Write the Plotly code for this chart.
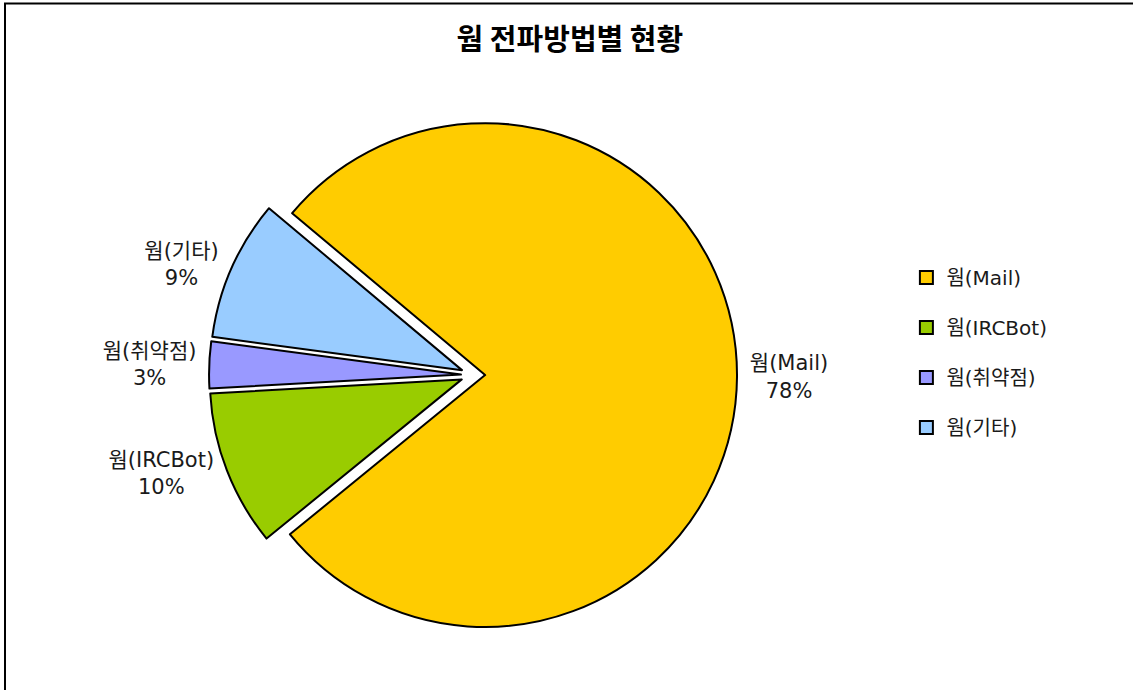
import plotly.graph_objects as go

# Data
categories = ["웜(Mail)", "웜(IRCBot)", "웜(취약점)", "웜(기타)"]
values = [78, 10, 3, 9]
colors = ["#FFCC00", "#99CC00", "#9999FF", "#99CCFF"]
title_text = "웜 전파방법별 현황"

W, H = 1133, 690
FONT = "DejaVu Sans, Noto Sans CJK KR, sans-serif"
TFONT = "Noto Sans CJK KR, sans-serif"

fig = go.Figure()

fig.add_trace(go.Pie(
    labels=categories,
    values=values,
    sort=False,
    direction="clockwise",
    rotation=310,
    pull=[0.048] * len(values),
    marker=dict(colors=colors, line=dict(color="#000000", width=2)),
    textposition="outside",
    texttemplate="%{label}<br>%{percent:.0%}",
    textfont=dict(family=FONT, size=21, color="#1a1a1a"),
    domain=dict(x=[0.1845, 0.6505], y=[0.0739, 0.8391]),
    showlegend=False,
    hoverinfo="label+percent",
))

# legend entries (one per category)
for i, (cat, col) in enumerate(zip(categories, colors)):
    fig.add_trace(go.Scatter(
        x=[None], y=[None], mode="markers", name=cat,
        legendgroup=f"g{i}",
        marker=dict(symbol="square", size=13, color=col,
                    line=dict(color="#000000", width=2)),
        showlegend=True,
    ))

fig.update_layout(
    width=W, height=H,
    margin=dict(l=0, r=0, t=0, b=0),
    paper_bgcolor="white",
    plot_bgcolor="white",
    xaxis=dict(visible=False),
    yaxis=dict(visible=False),
    title=dict(text=f"<b>{title_text}</b>", x=0.503, xanchor="center",
               y=1 - 40 / H, yanchor="middle",
               font=dict(family=TFONT, size=29, color="#000000")),
    legend=dict(x=0.800, y=1 - 258 / H, xanchor="left", yanchor="top",
                font=dict(family=FONT, size=20, color="#1a1a1a"),
                tracegroupgap=21, itemwidth=30,
                bgcolor="rgba(0,0,0,0)"),
    shapes=[dict(type="rect", xref="paper", yref="paper",
                 x0=5 / W, x1=1.02, y0=-0.02, y1=1 - 3.5 / H,
                 line=dict(color="#000000", width=2))],
)

fig.write_html("out.html")
